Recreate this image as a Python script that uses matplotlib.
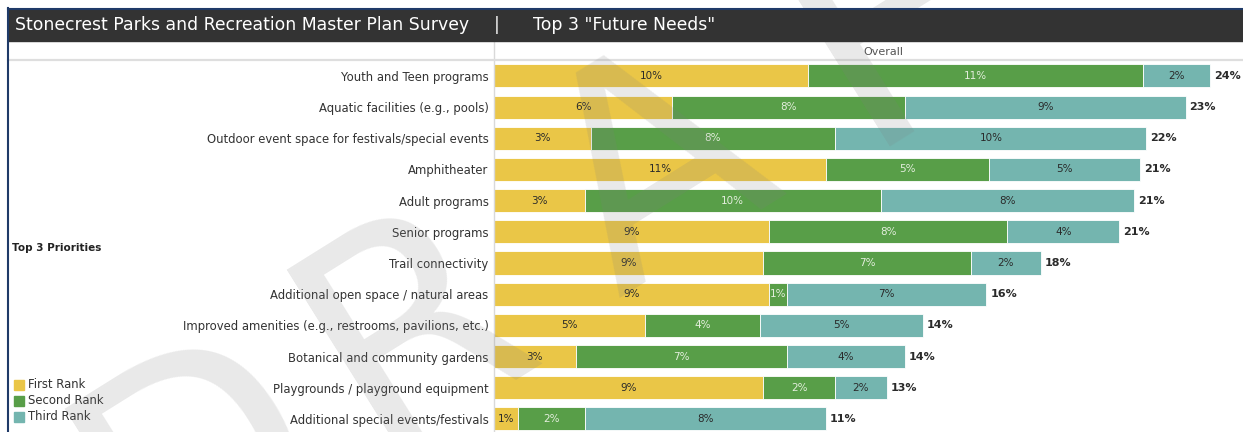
import numpy as np
import matplotlib
matplotlib.use("Agg")
import matplotlib.pyplot as plt
from matplotlib.patches import Rectangle
from matplotlib.lines import Line2D

W, H = 1243, 432

categories = [
    "Youth and Teen programs",
    "Aquatic facilities (e.g., pools)",
    "Outdoor event space for festivals/special events",
    "Amphitheater",
    "Adult programs",
    "Senior programs",
    "Trail connectivity",
    "Additional open space / natural areas",
    "Improved amenities (e.g., restrooms, pavilions, etc.)",
    "Botanical and community gardens",
    "Playgrounds / playground equipment",
    "Additional special events/festivals",
]
first_rank = [10.4, 5.9, 3.2, 11.0, 3.0, 9.1, 8.9, 9.1, 5.0, 2.7, 8.9, 0.8]
second_rank = [11.1, 7.7, 8.1, 5.4, 9.8, 7.9, 6.9, 0.6, 3.8, 7.0, 2.4, 2.2]
third_rank = [2.2, 9.3, 10.3, 5.0, 8.4, 3.7, 2.3, 6.6, 5.4, 3.9, 1.7, 8.0]

series_names = ["First Rank", "Second Rank", "Third Rank"]
series_colors = ["#EAC647", "#589E48", "#74B5AF"]
label_colors = ["#2a2a2a", "#e4eedd", "#2a2a2a"]

title_left = "Stonecrest Parks and Recreation Master Plan Survey"
title_right = 'Top 3 "Future Needs"'
column_header = "Overall"
row_header = "Top 3 Priorities"
watermark = "DRAFT"


def fx(x):
    return x / W


def fy(y):
    return 1 - y / H


def fig_line(fig, xs, ys, **kw):
    fig.add_artist(Line2D([fx(x) for x in xs], [fy(y) for y in ys],
                          transform=fig.transFigure, **kw))


fig = plt.figure(figsize=(W / 100, H / 100), dpi=100)
fig.patch.set_facecolor("white")

# bar panel
ax = fig.add_axes([fx(494), 0, 1 - fx(494), fy(60)])
rows = np.arange(len(categories))
series = [np.array(first_rank), np.array(second_rank), np.array(third_rank)]
left = np.zeros(len(categories))
for vals, color, tcolor in zip(series, series_colors, label_colors):
    ax.barh(rows, vals, left=left, height=0.74, color=color,
            edgecolor="white", linewidth=0.6)
    for r, v, l in zip(rows, vals, left):
        ax.text(l + v / 2, r, f"{v:.0f}%", ha="center", va="center",
                fontsize=7.5, color=tcolor)
    left = left + vals

for r, total in zip(rows, left):
    ax.text(total + 0.13, r, f"{total:.0f}%", ha="left", va="center",
            fontsize=8, fontweight="bold", color="#2a2a2a")

ax.set_xlim(0, 24.8)
ax.set_ylim(11.42, -0.51)
ax.set_xticks([])
ax.set_yticks(rows)
ax.set_yticklabels(categories, fontsize=8.4, color="#333333")
ax.tick_params(axis="y", length=0, pad=4)
for s in ax.spines.values():
    s.set_visible(False)

# grid lines and frame
fig_line(fig, [494, 494], [41, 432], color="#d9d9d9", lw=1)
fig_line(fig, [8, W], [60, 60], color="#dedede", lw=1.6)
fig.text(fx(883), fy(52), column_header, ha="center", va="center",
         fontsize=8, color="#555555")
fig.text(fx(12), fy(248), row_header, ha="left", va="center",
         fontsize=7.5, fontweight="bold", color="#222222")

# legend
for k, (name, color) in enumerate(zip(series_names, series_colors)):
    yc = 385 + 16 * k
    fig.add_artist(Rectangle((fx(14), fy(yc + 5)), fx(10), 10 / H,
                             transform=fig.transFigure, color=color))
    fig.text(fx(28), fy(yc), name, ha="left", va="center",
             fontsize=8.4, color="#333333")

# watermark letters laid along a tilted baseline
angle = 32
em = 295
advances = [0.770, 0.695, 0.684, 0.575, 0.611]
gaps = [35, 85, 85, 85]
ux, uy = np.cos(np.radians(angle)), -np.sin(np.radians(angle))
anchor_idx, anchor_xy = 2, (618, 298)
steps = np.array(advances[:-1]) * em + np.array(gaps)
offsets = np.concatenate([[0], np.cumsum(steps)])
for k, ch in enumerate(watermark):
    d = offsets[k] - offsets[anchor_idx]
    x0 = anchor_xy[0] + d * ux
    y0 = anchor_xy[1] + d * uy
    fig.text(fx(x0), fy(y0), ch, rotation=angle, rotation_mode="anchor",
             ha="left", va="baseline", fontsize=em * 72 / 100,
             color="#7f7f7f", alpha=0.17, zorder=9)

# title bar
fig.add_artist(Rectangle((fx(8), fy(41)), 1 - fx(8), (41 - 9) / H,
                         transform=fig.transFigure, color="#333333", zorder=10))
fig_line(fig, [8, W], [8.5, 8.5], color="#1f3a68", lw=1.5, zorder=11)
fig_line(fig, [8, 8], [8, H], color="#1f3a68", lw=1.5, zorder=11)
fig.text(fx(15), fy(25), title_left, ha="left", va="center",
         fontsize=12.4, color="white", zorder=12)
fig.text(fx(497), fy(25), "|", ha="center", va="center",
         fontsize=12.4, color="white", zorder=12)
fig.text(fx(533), fy(25), title_right, ha="left", va="center",
         fontsize=12.4, color="white", zorder=12)

fig.savefig("out.png", dpi=100)
